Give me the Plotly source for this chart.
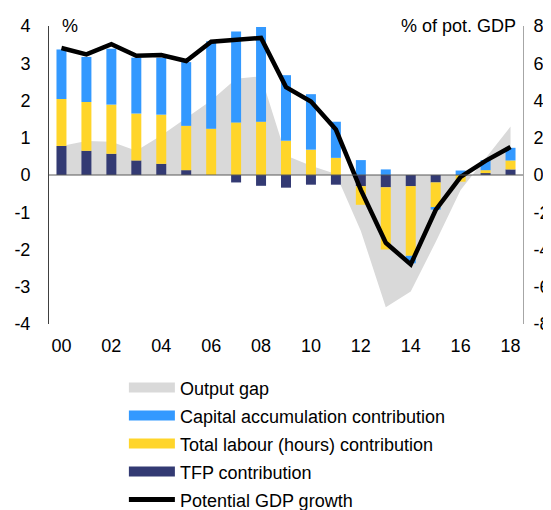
import plotly.graph_objects as go

years = ["00", "01", "02", "03", "04", "05", "06", "07", "08", "09",
         "10", "11", "12", "13", "14", "15", "16", "17", "18"]
tick_years = ["00", "02", "04", "06", "08", "10", "12", "14", "16", "18"]
left_ticks = [4, 3, 2, 1, 0, -1, -2, -3, -4]
left_labels = ["4", "3", "2", "1", "0", "-1", "-2", "-3", "-4"]
right_ticks = [8, 6, 4, 2, 0, -2, -4, -6, -8]
right_labels = ["8", "6", "4", "2", "0", "-2", "-4", "-6", "-8"]

tfp = [0.78, 0.65, 0.57, 0.39, 0.30, 0.13, 0.00, -0.20, -0.29, -0.34,
       -0.26, -0.26, -0.30, -0.33, -0.30, -0.20, 0.00, 0.05, 0.15]
labour = [1.26, 1.31, 1.32, 1.26, 1.32, 1.19, 1.24, 1.41, 1.43, 0.92,
          0.68, 0.46, -0.50, -1.67, -1.87, -0.68, -0.18, 0.08, 0.24]
capital = [1.33, 1.21, 1.50, 1.50, 1.53, 1.71, 2.35, 2.44, 2.54, 1.76,
           1.49, 0.97, 0.40, 0.15, -0.20, -0.05, 0.12, 0.27, 0.34]
potential = [3.41, 3.24, 3.51, 3.20, 3.22, 3.06, 3.58, 3.64, 3.68, 2.36,
             1.97, 1.22, -0.40, -1.82, -2.40, -0.94, -0.05, 0.38, 0.75]
output_gap = [1.56, 1.82, 1.78, 1.30, 2.12, 3.04, 4.00, 5.17, 5.30, 1.05,
              0.50, 0.05, -3.00, -7.10, -6.25, -3.60, -0.80, 0.90, 2.60]

C_GAP = "#d9d9d9"
C_CAP = "#3399ff"
C_LAB = "#ffd52a"
C_TFP = "#333a73"
C_POT = "#000000"
FONT = "Liberation Sans, Arial, sans-serif"
FS = 18

fig = go.Figure()

# output gap area on the right-hand axis (main subplot, drawn beneath)
fig.add_trace(go.Scatter(x=years, y=output_gap, mode="lines", fill="tozeroy",
                         fillcolor=C_GAP, line=dict(width=0, color=C_GAP),
                         yaxis="y", showlegend=False, hoverinfo="skip"))

# bars and line on the left-hand axis (overlay subplot, drawn on top)
fig.add_trace(go.Bar(x=years, y=tfp, marker=dict(color=C_TFP, line=dict(width=0)),
                     yaxis="y2", showlegend=False, name="TFP contribution"))
fig.add_trace(go.Bar(x=years, y=labour, marker=dict(color=C_LAB, line=dict(width=0)),
                     yaxis="y2", showlegend=False, name="Total labour (hours) contribution"))
fig.add_trace(go.Bar(x=years, y=capital, marker=dict(color=C_CAP, line=dict(width=0)),
                     yaxis="y2", showlegend=False, name="Capital accumulation contribution"))
fig.add_trace(go.Scatter(x=years, y=potential, mode="lines",
                         line=dict(color=C_POT, width=4.5), yaxis="y2",
                         showlegend=False, name="Potential GDP growth"))

# legend entries
legend_items = [("Output gap", C_GAP, 11), ("Capital accumulation contribution", C_CAP, 11),
                ("Total labour (hours) contribution", C_LAB, 11), ("TFP contribution", C_TFP, 11),
                ("Potential GDP growth", C_POT, 5)]
for i, (nm, col, w) in enumerate(legend_items):
    fig.add_trace(go.Scatter(x=[None], y=[None], mode="lines", name=nm,
                             line=dict(color=col, width=w), legendgroup="g%d" % i,
                             yaxis="y2", showlegend=True))

fig.update_layout(
    width=543, height=502,
    margin=dict(l=41, r=28, t=18, b=186, autoexpand=False),
    paper_bgcolor="white", plot_bgcolor="white",
    font=dict(family=FONT, size=FS, color="#000000"),
    barmode="relative", bargap=0.6,
    showlegend=True,
    legend=dict(x=0.158, y=-0.152, xanchor="left", yanchor="top",
                traceorder="grouped", tracegroupgap=1.6,
                font=dict(family=FONT, size=FS, color="#000000"),
                bgcolor="rgba(0,0,0,0)", itemwidth=46),
    xaxis=dict(type="category", tickmode="array", tickvals=tick_years, ticktext=tick_years,
               range=[-0.5, 18.5], showline=False, showgrid=False, zeroline=False,
               ticks="", tickfont=dict(size=FS), automargin=False, ticklabelstandoff=9),
    yaxis=dict(side="right", range=[-8, 8], tickmode="array", tickvals=right_ticks,
               ticktext=right_labels, showgrid=False, automargin=False,
               zeroline=False, showline=True, linecolor="#a6a6a6", linewidth=1,
               ticks="", tickfont=dict(size=FS), ticklabelstandoff=6),
    yaxis2=dict(side="left", overlaying="y", range=[-4, 4], tickmode="array",
                tickvals=left_ticks, ticktext=left_labels, automargin=False,
                showgrid=False, zeroline=False, showline=True, linecolor="#404040",
                linewidth=1, ticks="", tickfont=dict(size=FS), ticklabelstandoff=14),
    shapes=[dict(type="line", xref="paper", yref="y2", x0=0, x1=1, y0=0, y1=0,
                 line=dict(color="#595959", width=1), layer="above")],
    annotations=[
        dict(text="%", xref="paper", yref="paper", x=0.023, y=1.0, xanchor="left",
             yanchor="middle", showarrow=False, font=dict(size=FS)),
        dict(text="% of pot. GDP", xref="paper", yref="paper", x=0.99, y=1.0,
             xanchor="right", yanchor="middle", showarrow=False, font=dict(size=FS)),
    ],
)

fig.write_html("out.html")
